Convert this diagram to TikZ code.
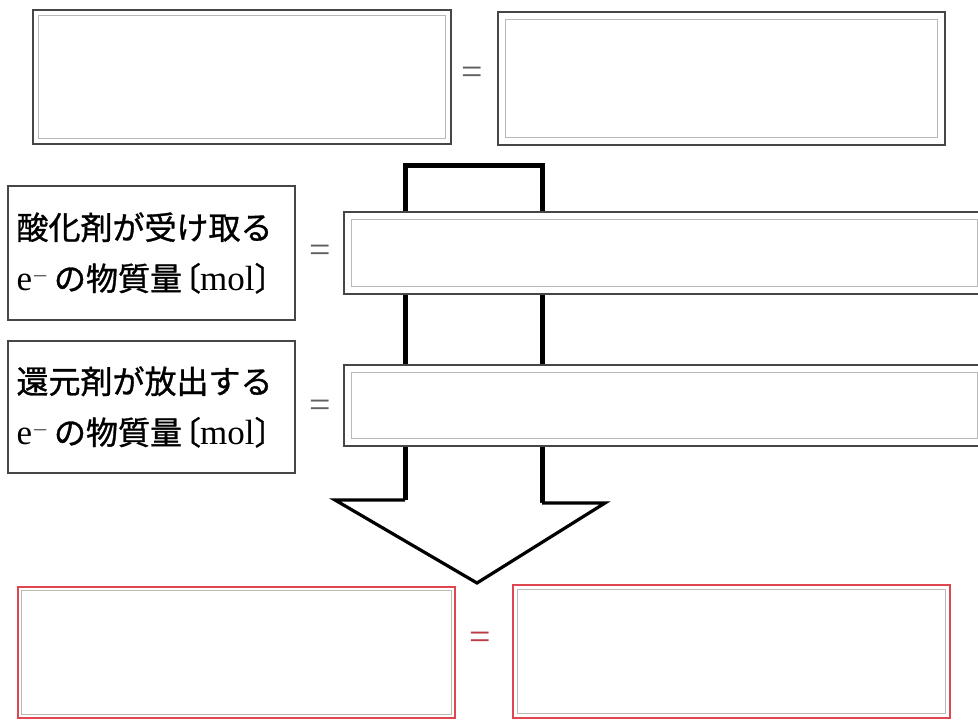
\documentclass[tikz,border=0pt]{standalone}
\usepackage{fontspec}
\setmainfont{Liberation Serif}
\newfontfamily\jp{Noto Sans CJK JP}[RawFeature={embolden=1.0}]
\definecolor{boxline}{RGB}{70,70,70}
\definecolor{innerline}{RGB}{185,185,185}
\definecolor{redline}{RGB}{222,70,80}
\definecolor{eqgray}{RGB}{95,95,95}
\newcommand{\eline}{{\fontsize{35}{40}\selectfont e}$^{-}$\,{\jp の物質量\kern-13pt〔}\kern-1pt{\fontsize{35}{40}\selectfont mol}{\jp 〕}}
\begin{document}
\begin{tikzpicture}[x=1pt,y=-1pt,
  answerbox/.style={draw=boxline, line width=1.8pt, fill=white, minimum width=#1, inner sep=0pt},
  redbox/.style={draw=redline, line width=2.6pt, fill=white, inner sep=0pt},
  labelbox/.style={draw=boxline, line width=1.6pt, fill=white, inner sep=0pt, align=left, font=\fontsize{32}{40}\selectfont},
  inner/.style={draw=innerline, line width=0.9pt},
  eq/.style={text=eqgray, font=\fontsize{38}{38}\selectfont},
  shaft/.style={line width=5pt, black},
  head/.style={line width=3.2pt, black, line join=miter, fill=white}
]
\useasboundingbox (0,0) rectangle (978,720);
\fill[white] (0,0) rectangle (978,720);

% thick bracket and arrow shafts (drawn under boxes)
\coordinate (bl) at (405,165);
\coordinate (br) at (542,165);
\coordinate (sl) at (405,500);
\coordinate (sr) at (542,503);
\draw[shaft, line join=miter] (405,212) -- (bl) -- (br) -- (542,212);
\draw[shaft] (405,290) -- (sl);
\draw[shaft] (542,290) -- (sr);

% top row
\node[answerbox=418pt, minimum height=134pt] (t1) at (242,77) {};
\node[answerbox=447pt, minimum height=133pt] (t2) at (721.5,78.5) {};
\node[eq] (e1) at (472,76) {=};

% middle rows
\node[labelbox, minimum width=287pt, minimum height=134pt] (l1) at (151.5,253)
  {{\jp 酸化剤が受け取る}\\[11pt]\eline};
\node[labelbox, minimum width=287pt, minimum height=132pt] (l2) at (151.5,407)
  {{\jp 還元剤が放出する}\\[11pt]\eline};
\node[eq] (e2) at (320,254) {=};
\node[eq] (e3) at (320,409) {=};
\node[answerbox=641pt, minimum height=82pt] (a1) at (664.5,253) {};
\node[answerbox=641pt, minimum height=81pt] (a2) at (664.5,405.5) {};

% arrow head
\draw[head] (sl) -- (335,500) -- (477,583) -- (605,503) -- (sr);

% bottom row
\node[redbox, minimum width=437pt, minimum height=131pt] (r1) at (236.5,652.5) {};
\node[redbox, minimum width=437pt, minimum height=133pt] (r2) at (731.5,651.5) {};
\node[eq, text=redline!85!black] (e4) at (480,641) {=};

% inner lines
\foreach \n/\d in {t1/6,t2/8,a1/8,a2/8,r1/5,r2/6}{
  \draw[inner] ([shift={(\d,\d)}]\n.north west) rectangle ([shift={(-\d,-\d)}]\n.south east);
}
\end{tikzpicture}
\end{document}
